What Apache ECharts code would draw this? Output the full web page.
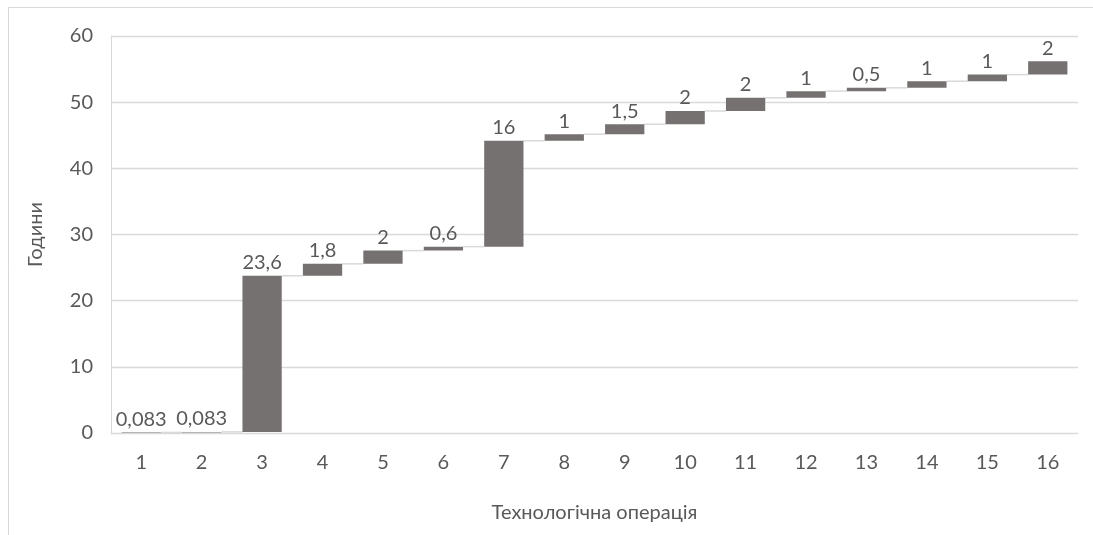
<!DOCTYPE html>
<html>
<head>
<meta charset="utf-8">
<script src="https://cdn.jsdelivr.net/npm/echarts@6/dist/echarts.min.js"></script>
<style>
  html, body { margin: 0; padding: 0; background: #ffffff; }
  #chart { width: 1093px; height: 535px; }
</style>
</head>
<body>
<div id="chart"></div>
<script>
// Operation numbers and their durations (hours)
const categories = ['1','2','3','4','5','6','7','8','9','10','11','12','13','14','15','16'];
const durations = [0.083, 0.083, 23.6, 1.8, 2, 0.6, 16, 1, 1.5, 2, 2, 1, 0.5, 1, 1, 2];
const valueLabels = ['0,083','0,083','23,6','1,8','2','0,6','16','1','1,5','2','2','1','0,5','1','1','2'];
const yTicks = [0, 10, 20, 30, 40, 50, 60];

// Running totals: each step starts where the previous one ended
const bases = [];
const tops = [];
let acc = 0;
durations.forEach(function (d) {
  bases.push(+acc.toFixed(3));
  acc += d;
  tops.push(+acc.toFixed(3));
});

const FONT = 'Lato, "Open Sans", sans-serif';
const TEXT = '#595959';
const GRID = '#d9d9d9';

const chart = echarts.init(document.getElementById('chart'), null, { renderer: 'canvas' });

chart.setOption({
  animation: false,
  backgroundColor: '#ffffff',
  graphic: [{
    type: 'rect',
    silent: true,
    shape: { x: 8.5, y: 7.5, width: 1100, height: 540 },
    style: { fill: 'none', stroke: GRID, lineWidth: 1 }
  }],
  grid: { left: 111, right: 15, top: 36, bottom: 102 },
  xAxis: {
    type: 'category',
    data: categories,
    name: 'Технологічна операція',
    nameLocation: 'middle',
    nameGap: 70,
    nameTextStyle: { color: TEXT, fontSize: 20, fontFamily: FONT },
    axisLine: { show: true, lineStyle: { color: GRID, width: 1 } },
    axisTick: { show: false },
    axisLabel: { color: TEXT, fontSize: 20, fontFamily: FONT, margin: 20 }
  },
  yAxis: {
    type: 'value',
    min: yTicks[0],
    max: yTicks[yTicks.length - 1],
    interval: 10,
    name: 'Години',
    nameLocation: 'middle',
    nameGap: 65,
    nameTextStyle: { color: TEXT, fontSize: 20, fontFamily: FONT },
    axisLine: { show: true, lineStyle: { color: GRID, width: 1 } },
    axisTick: { show: false },
    axisLabel: { color: TEXT, fontSize: 20, fontFamily: FONT, margin: 18 },
    splitLine: { lineStyle: { color: GRID, width: 1.3 } }
  },
  series: [
    {
      // invisible base that lifts each step to the running total
      type: 'bar',
      stack: 'wf',
      barCategoryGap: '35%',
      silent: true,
      itemStyle: { color: 'transparent' },
      data: bases
    },
    {
      type: 'bar',
      stack: 'wf',
      barCategoryGap: '35%',
      itemStyle: { color: '#767171' },
      label: {
        show: true,
        position: 'top',
        distance: 3,
        color: TEXT,
        fontSize: 20,
        fontFamily: FONT,
        formatter: function (p) { return valueLabels[p.dataIndex]; }
      },
      data: durations
    },
    {
      // connector lines from the end of one step to the start of the next
      type: 'custom',
      silent: true,
      z: 1,
      data: tops.slice(0, -1).map(function (t, i) { return [i, t]; }),
      renderItem: function (params, api) {
        const i = api.value(0);
        const level = api.value(1);
        const band = api.size([1, 0])[0];
        const half = band * 0.65 / 2;
        const a = api.coord([i, level]);
        const b = api.coord([i + 1, level]);
        return {
          type: 'line',
          shape: { x1: a[0] + half, y1: a[1], x2: b[0] - half, y2: b[1] },
          style: { stroke: GRID, lineWidth: 1.5 }
        };
      }
    }
  ]
});
</script>
</body>
</html>
